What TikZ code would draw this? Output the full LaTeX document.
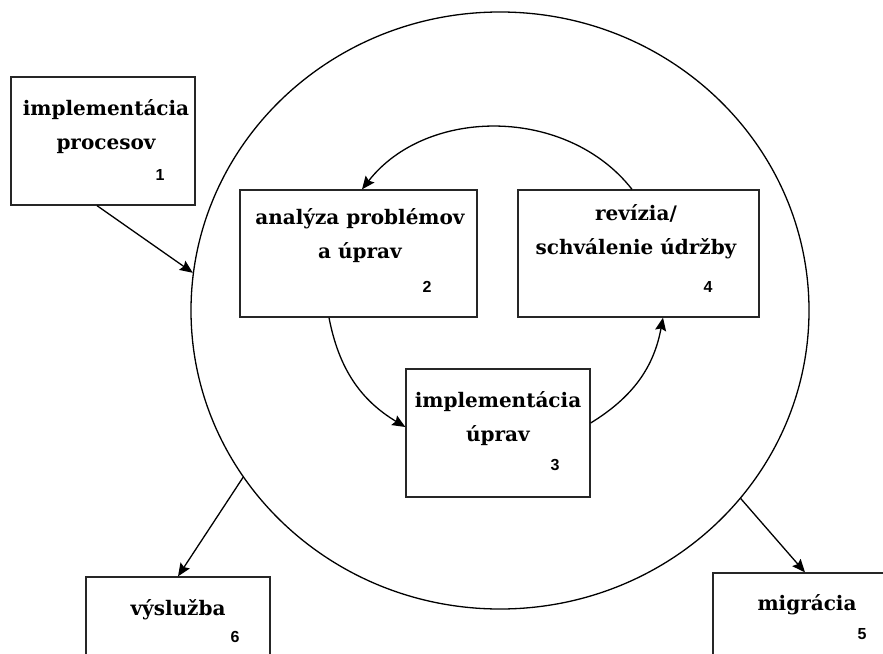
\documentclass[tikz,border=0pt]{standalone}
\usepackage{fontspec}
\setmainfont{DejaVu Serif}
\newfontfamily\numfont{Liberation Sans}
\usetikzlibrary{
	arrows.meta,
	shapes.geometric
}

\begin{document}
\begin{tikzpicture}[x=1pt,y=-1pt,
		box/.style={draw=black!85, line width=1.3pt, rectangle, inner sep=0pt, minimum width=184pt, minimum height=128pt},
		title/.style={align=center, inner sep=0pt, font=\bfseries\fontsize{20}{34}\selectfont},
		num/.style={inner sep=0pt, font=\numfont\bfseries\fontsize{16}{18}\selectfont},
		arrow/.style={-{Stealth[length=13pt,width=11pt,inset=2pt]}, line width=1.3pt}
		]
		
		\clip (0,0) rectangle (883,653);
		
		% --- Outer cycle ---
		\node[draw, ellipse, line width=1.3pt, inner sep=0pt, minimum width=618pt, minimum height=597pt] (ring) at (500,310.5) {};
		
		% --- Boxes ---
		\node[box] (b1) at (103,141) {};
		\node[box, minimum width=237pt, minimum height=127pt] (b2) at (358.5,253.5) {};
		\node[box, minimum width=241pt, minimum height=127pt] (b4) at (638.5,253.5) {};
		\node[box] (b3) at (498,433) {};
		\node[box] (b6) at (178,641) {};
		\node[box] (b5) at (805,637) {};
		
		% --- Titles ---
		\node[title] (t1) at (106,127) {implementácia\\procesov};
		\node[title] (t2) at (360,236) {analýza problémov\\a úprav};
		\node[title] (t4) at (636,232) {revízia/\\schválenie údržby};
		\node[title] (t3) at (498,419) {implementácia\\úprav};
		\node[title] (t6) at (178,610) {výslužba};
		\node[title] (t5) at (807,605) {migrácia};
		
		% --- Numbers ---
		\node[num] (n1) at (160,175) {1};
		\node[num] (n2) at (427,287) {2};
		\node[num] (n3) at (555,465) {3};
		\node[num] (n4) at (708,287) {4};
		\node[num] (n5) at (862,634) {5};
		\node[num] (n6) at (235,637) {6};
		
		% --- Arrows ---
		\draw[arrow] ([xshift=-6pt]b1.south) -- (ring.173);
		\draw[arrow] (ring.213) -- (b6.north);
		\draw[arrow] (ring.322) -- (b5.north);
		
		\draw[arrow] ([xshift=-6.5pt]b4.north) to[bend right=52] ([xshift=3.5pt]b2.north);
		\draw[arrow] ([xshift=-29.5pt]b2.south) to[bend right=24] ([yshift=6pt]b3.west);
		\draw[arrow] ([yshift=10pt]b3.east) to[bend right=24] ([xshift=24.5pt]b4.south);
		
	\end{tikzpicture}
\end{document}
